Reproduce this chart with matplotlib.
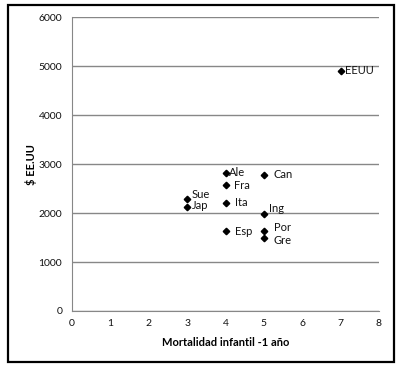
import matplotlib
matplotlib.use("Agg")
from matplotlib import pyplot as plt
from matplotlib.patches import Rectangle

plt.rcParams['font.family'] = ['Lato', 'DejaVu Sans']

# data
paises = ['EEUU', 'Ale', 'Can', 'Fra', 'Sue', 'Jap', 'Ita', 'Ing', 'Esp', 'Por', 'Gre']
mortalidad = [7, 4, 5, 4, 3, 3, 4, 5, 4, 5, 5]
gasto = [4900, 2810, 2770, 2570, 2290, 2120, 2210, 1980, 1630, 1630, 1500]

# label offsets in points (layout only)
offsets = {
    'EEUU': (3, 0), 'Ale': (2.5, 0.5), 'Can': (7, 0.5), 'Fra': (6, 0),
    'Sue': (3.5, 3), 'Jap': (3.5, 1), 'Ita': (7, 0), 'Ing': (4, 4),
    'Esp': (7, 0), 'Por': (7, 2.5), 'Gre': (7, -2),
}

fig = plt.figure(figsize=(4.04, 3.69), dpi=100)
ax = fig.add_axes([72/404, 1 - 311/369, (379-72)/404, (311-17)/369])

ax.plot(mortalidad, gasto, linestyle='none', marker='D', markersize=3.3,
        color='black', zorder=3)
for p, xv, yv in zip(paises, mortalidad, gasto):
    ax.annotate(p, (xv, yv), xytext=offsets[p], textcoords='offset points',
                ha='left', va='center', fontsize=8, color='#111111')

ax.set_xlim(0, 8)
ax.set_ylim(0, 6000)
ax.set_xticks(range(0, 9))
ax.set_yticks(range(0, 6001, 1000))
ax.grid(True, axis='y', color='#878787', linewidth=1)
ax.set_axisbelow(True)
for s in ['top', 'right']:
    ax.spines[s].set_visible(False)
for s in ['left', 'bottom']:
    ax.spines[s].set_color('#878787')
ax.tick_params(length=0, labelsize=7.5, colors='#111111')
ax.tick_params(axis='x', pad=6)
ax.tick_params(axis='y', pad=7)

ax.set_xlabel('Mortalidad infantil -1 año', fontsize=8, fontweight='bold', labelpad=6)
ax.set_ylabel('$ EE.UU', fontsize=8, fontweight='bold')
ax.yaxis.set_label_coords(-35/307, (311-165)/294)

fig.patches.append(Rectangle((8/404, 1 - 362/369), (394-8)/404, (362-5)/369,
                             transform=fig.transFigure, fill=False,
                             edgecolor='black', linewidth=1.6))

fig.savefig('out.png', dpi=100)
